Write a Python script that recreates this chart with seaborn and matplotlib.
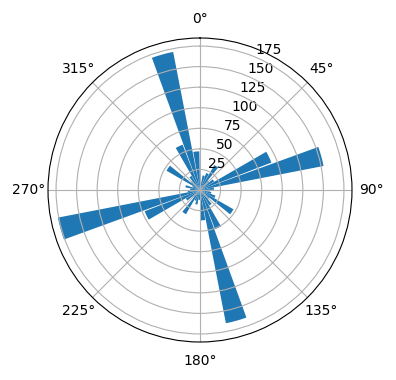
import numpy as np
import matplotlib
matplotlib.use("Agg")
import matplotlib.pyplot as plt
import seaborn as sns

# bin left edges (degrees) and counts
directions = [0, 10, 20, 30, 40, 50, 60, 70, 80, 90, 100, 110,
              120, 130, 140, 150, 160, 170, 180, 190, 200, 210, 220, 230,
              240, 250, 260, 270, 280, 290, 300, 310, 320, 330, 340, 350]
counts = [10, 18, 22, 35, 15, 20, 93, 153, 17, 12, 14, 20,
          47, 15, 22, 51, 165, 37, 12, 18, 14, 34, 12, 20,
          72, 176, 15, 12, 18, 10, 47, 14, 20, 59, 171, 47]

color = sns.color_palette("tab10")[0]

fig = plt.figure(figsize=(3.96, 3.80), dpi=100)
ax = fig.add_axes([48 / 396, 38 / 380, 304 / 396, 304 / 380], projection="polar")
ax.set_theta_zero_location("N")
ax.set_theta_direction(-1)

theta = np.deg2rad(directions)
ax.bar(theta, counts, width=np.deg2rad(9), align="edge", color=color)

ax.set_rticks([25, 50, 75, 100, 125, 150, 175])

fig.savefig("out.png", dpi=100)
